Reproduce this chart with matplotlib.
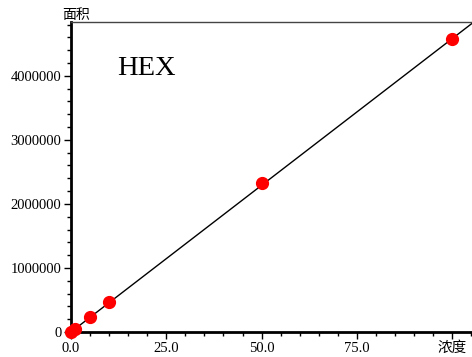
import numpy as np
import matplotlib.pyplot as plt
from matplotlib.ticker import MultipleLocator

plt.rcParams['font.family'] = ['Liberation Serif', 'Noto Sans CJK SC']

# Data
conc = [0, 1, 5, 10, 50, 100]
area = [0, 46000, 240000, 465000, 2320000, 4580000]
fit_x = [0, 106]
slope = 45800
x_ticks = [0, 25, 50, 75, 100]
x_labels = ['0.0', '25.0', '50.0', '75.0', '浓度']
y_ticks = [0, 1000000, 2000000, 3000000, 4000000]

fig = plt.figure(figsize=(4.72, 3.57), dpi=100)
ax = fig.add_axes([71 / 472, 25 / 357, 401 / 472, 310 / 357])

ax.plot(fit_x, [slope * v for v in fit_x], color='black', lw=1)
ax.plot(conc, area, 'o', color='#ff0000', ms=8.5, zorder=3, clip_on=False)

ax.set_xlim(0, 105.2)
ax.set_ylim(0, 4840000)

ax.set_xticks(x_ticks)
ax.set_xticklabels(x_labels)
ax.set_yticks(y_ticks)
ax.set_yticklabels([str(v) for v in y_ticks])
ax.xaxis.set_minor_locator(MultipleLocator(5))
ax.yaxis.set_minor_locator(MultipleLocator(200000))
ax.tick_params(which='major', length=5, width=1, labelsize=10.5, pad=2)
ax.tick_params(which='minor', length=3, width=1)

ax.spines['right'].set_visible(False)
ax.spines['left'].set_linewidth(2)
ax.spines['bottom'].set_linewidth(2)
ax.spines['top'].set_linewidth(1)
ax.spines['top'].set_color('#444444')

ax.annotate('面积', xy=(0, 1), xycoords='axes fraction', xytext=(-6, 0),
            textcoords='offset points', ha='left', va='bottom', fontsize=10)
ax.text(12, 4120000, 'HEX', fontsize=20.5, va='center', ha='left')

fig.savefig('out.png', dpi=100)
